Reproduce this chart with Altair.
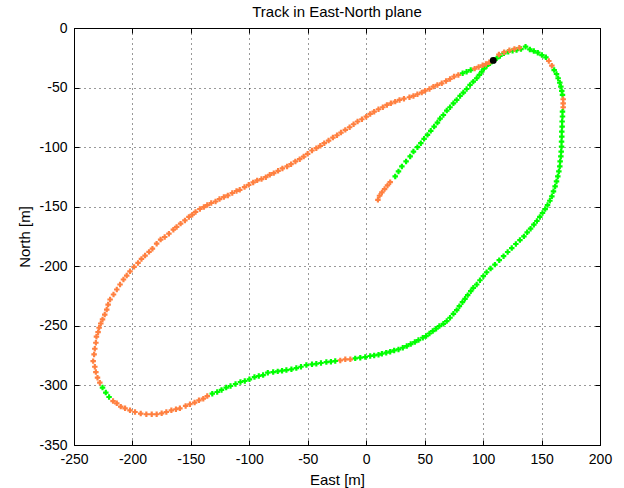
import altair as alt
import pandas as pd

# ---- axis ticks ----
X_TICKS = [-250, -200, -150, -100, -50, 0, 50, 100, 150, 200]
Y_TICKS = [-350, -300, -250, -200, -150, -100, -50, 0]

# ---- track points, in path order (East, North in metres) ----
S1_E = [10.0, 11.4, 13.4, 15.7, 18.2, 20.5]
S1_N = [-144.2, -140.8, -138.0, -135.2, -132.1, -129.4]

S2_E = [24.8, 27.6, 30.5, 34.1, 37.6, 40.4, 43.8, 46.7, 49.5, 52.4, 55.2, 58.1, 60.9, 63.2, 66.0,
        68.9, 71.7, 74.6, 77.4, 80.3, 83.1, 85.9, 88.8, 91.6, 94.5, 96.8, 98.8, 100.7, 103.0, 105.9,
        108.7, 111.6, 114.4, 117.8, 121.5, 125.2, 128.6, 132.4, 136.3, 140.0, 143.4, 146.8, 150.3, 153.7]
S2_N = [-124.6, -120.4, -116.2, -112.0, -107.8, -103.7, -100.0, -96.7, -93.0, -89.7, -86.3, -82.7, -79.4, -76.0, -73.0,
        -69.3, -66.5, -63.2, -60.4, -57.0, -54.2, -51.2, -47.8, -45.0, -42.2, -39.4, -36.7, -34.1, -31.9, -29.7,
        -27.4, -25.5, -23.5, -21.3, -19.9, -19.1, -18.5, -17.7, -15.7, -18.0, -19.4, -20.7, -22.7, -24.6]

S3_E = [156.2, 158.8]
S3_N = [-27.7, -31.6]

S4_E = [160.8, 162.8, 164.2, 165.6, 166.5, 167.3, 167.9]
S4_N = [-35.3, -38.6, -42.2, -45.9, -49.2, -52.8, -56.2]

S5_E = [168.5, 168.5, 168.5]
S5_N = [-59.8, -63.2, -66.5]

S6_E = [167.9, 167.9, 167.6, 167.6, 167.3, 167.3, 167.1, 167.1, 166.8, 166.5, 165.9, 165.6, 164.8, 163.9, 162.8,
        161.6, 160.2, 158.8, 157.1, 155.1, 153.1, 150.8, 148.5, 146.0, 143.4, 140.6, 137.7, 134.9, 131.5, 128.0,
        124.5, 121.0, 117.5, 113.8, 110.1, 106.4, 103.0, 100.2, 97.3, 94.5, 91.6, 89.4, 86.8, 84.5, 82.3,
        79.7, 77.4, 74.6, 71.7, 68.9, 66.0, 62.6, 59.8, 56.9, 54.1, 51.2, 48.4, 44.7, 41.6, 38.1,
        34.7, 31.3, 27.6, 23.9, 20.5, 17.1, 13.4, 10.5, 6.8, 3.4, -0.8, -5.1, -9.4]
S6_N = [-70.2, -74.3, -78.5, -82.7, -86.9, -91.1, -95.3, -99.5, -103.7, -107.8, -112.0, -116.2, -120.4, -124.6, -128.8,
        -133.0, -137.1, -141.3, -145.0, -148.6, -152.0, -155.3, -158.6, -162.0, -165.1, -168.4, -171.5, -174.9, -178.0, -181.3,
        -184.7, -188.0, -191.5, -194.9, -198.6, -201.9, -205.0, -208.3, -211.7, -215.3, -218.1, -220.9, -224.2, -227.3, -230.1,
        -233.5, -236.8, -239.9, -243.2, -246.0, -248.3, -250.2, -252.4, -254.4, -256.4, -258.6, -260.0, -261.9, -263.6, -265.3,
        -267.0, -268.4, -269.8, -270.6, -271.7, -272.5, -273.4, -274.2, -274.8, -275.3, -276.2, -276.7, -277.3]

S7_E = [-13.6, -17.9, -22.2]
S7_N = [-278.1, -278.1, -279.0]

S8_E = [-26.5, -30.2, -34.1, -38.7, -42.7, -46.4, -51.2, -55.8, -59.8, -64.0, -68.3, -72.0, -75.7, -79.6, -84.2,
        -88.2, -91.9, -95.6, -99.9, -103.9, -107.6, -111.8, -116.1, -119.8, -123.8, -127.5, -131.7]
S8_N = [-279.5, -280.1, -280.4, -281.2, -281.8, -282.3, -282.9, -284.3, -285.4, -286.5, -287.1, -287.6, -288.2, -288.8, -289.3,
        -291.3, -292.1, -293.0, -294.9, -296.3, -297.1, -298.8, -300.5, -301.8, -303.8, -305.5, -306.9]

S9_E = [-136.0, -139.4, -143.1, -146.8, -150.8, -154.5, -159.4, -162.8, -166.7, -171.0, -175.0, -179.3, -183.5, -188.1,
        -192.9, -197.8, -202.1, -206.3, -210.0, -213.4, -216.6]
S9_N = [-308.9, -311.1, -312.5, -314.4, -315.8, -317.2, -319.2, -320.0, -320.9, -322.3, -323.4, -324.2, -324.2, -324.2,
        -323.6, -322.3, -320.9, -319.2, -317.8, -315.0, -313.1]

S10_E = [-220.0, -222.8, -225.6]
S10_N = [-309.7, -306.0, -301.8]

S11_E = [-227.9, -229.9, -231.3, -232.2, -233.6, -232.8, -232.2, -231.3, -230.8, -229.4, -228.5, -227.1, -225.6, -223.7, -222.0,
         -220.8, -219.1, -216.2, -213.4, -210.6, -207.7, -204.9, -202.1, -198.6, -195.2, -192.3, -189.2, -185.8, -182.9, -179.3,
         -175.9, -172.4, -168.8, -165.0, -162.2, -158.8, -155.1, -151.7, -148.8, -146.0, -142.3, -138.9, -136.0, -132.6, -128.9,
         -125.5, -121.8, -118.4, -114.6, -111.0, -108.2, -104.1, -100.5, -96.7, -93.3, -89.6, -85.9, -82.5, -79.1, -75.4,
         -71.7, -67.7, -64.3, -60.6, -56.9, -53.5, -50.1, -46.4, -42.7, -39.3, -35.9, -32.2, -28.5, -25.0, -21.6,
         -17.9, -14.2, -10.8, -7.4, -3.7, 0.0, 3.4, 6.8, 10.5, 14.2, 17.7, 21.1, 24.8, 28.5, 32.3,
         37.0, 40.4, 43.8, 47.5, 50.4, 54.1, 57.5, 60.9, 64.6, 68.3, 71.7, 75.1, 78.8]
S11_N = [-297.7, -293.5, -288.8, -284.3, -279.6, -274.0, -269.2, -264.2, -259.1, -255.3, -251.6, -248.0, -244.6, -240.5, -236.3,
         -232.1, -227.9, -223.7, -219.5, -215.3, -211.1, -207.8, -204.2, -200.5, -197.2, -193.8, -191.0, -187.9, -185.2, -181.0,
         -177.6, -175.4, -172.6, -169.3, -167.0, -164.2, -161.5, -158.6, -156.7, -154.4, -151.9, -150.3, -148.6, -146.9, -145.6,
         -143.6, -141.9, -140.5, -138.5, -136.8, -135.8, -133.5, -131.6, -129.6, -127.9, -126.8, -125.2, -123.2, -121.8, -119.9,
         -117.9, -116.2, -114.3, -112.0, -110.1, -107.9, -105.6, -102.8, -100.9, -98.9, -96.7, -94.5, -92.0, -90.0, -87.8,
         -85.5, -83.3, -80.8, -78.5, -76.6, -74.4, -72.1, -70.2, -68.2, -66.5, -64.6, -63.2, -61.8, -60.4, -59.3,
         -58.1, -57.0, -55.6, -54.2, -52.6, -51.2, -49.2, -47.8, -46.4, -44.5, -42.8, -40.8, -39.4]

S12_E = [82.5, 85.9, 89.4]
S12_N = [-38.0, -36.7, -35.3]

S13_E = [92.8, 96.2, 99.6, 102.4, 105.3, 113.5, 118.0, 122.5, 126.8, 131.0]
S13_N = [-34.1, -32.7, -31.3, -30.2, -28.8, -22.3, -20.3, -18.7, -17.6, -16.6]

SEGMENTS = [
    ("orange", S1_E, S1_N), ("green", S2_E, S2_N), ("orange", S3_E, S3_N), ("green", S4_E, S4_N),
    ("orange", S5_E, S5_N), ("green", S6_E, S6_N), ("orange", S7_E, S7_N), ("green", S8_E, S8_N),
    ("orange", S9_E, S9_N), ("green", S10_E, S10_N), ("orange", S11_E, S11_N), ("green", S12_E, S12_N),
    ("orange", S13_E, S13_N),
]

DOT_E = [108.7]
DOT_N = [-27.2]

rows = []
for status, es, ns in SEGMENTS:
    assert len(es) == len(ns)
    for e, n in zip(es, ns):
        rows.append({"east": e, "north": n, "fix": status})
df = pd.DataFrame(rows)
dot_df = pd.DataFrame({"east": DOT_E, "north": DOT_N})

W, H = 526, 417
FONT = "Liberation Sans"

xs = alt.Scale(domain=[-250, 200], nice=False, zero=False)
ys = alt.Scale(domain=[-350, 0], nice=False, zero=False)

common_lab = dict(labelFont=FONT, labelFontSize=14, labelColor="black", labelFlush=False,
                  labelOverlap=False, labelExpr="'' + datum.value")
grid_style = dict(grid=True, gridColor="black", gridDash=[1, 4], gridOpacity=0.8, gridWidth=1)

x_main = alt.Axis(values=X_TICKS, title="East [m]", ticks=False, domain=False, labelPadding=7,
                  titleFont=FONT, titleFontSize=15, titleFontWeight="normal", titleColor="black",
                  titleBaseline="alphabetic", titleY=39, **grid_style, **common_lab)
y_main = alt.Axis(values=Y_TICKS, title="North [m]", ticks=False, domain=False, labelPadding=7,
                  titleFont=FONT, titleFontSize=15, titleFontWeight="normal", titleColor="black",
                  titleBaseline="alphabetic", titleAngle=270, titleAlign="center",
                  titleX=-45, titleY=H / 2, **grid_style, **common_lab)

tick_style = dict(labels=False, domain=False, grid=False, ticks=True, tickSize=5,
                  tickColor="black", tickWidth=1, title="")

points = alt.Chart(df).mark_point(shape="cross", filled=True, size=30, opacity=1).encode(
    x=alt.X("east:Q", scale=xs, axis=x_main),
    y=alt.Y("north:Q", scale=ys, axis=y_main),
    color=alt.Color("fix:N", scale=alt.Scale(domain=["green", "orange"], range=["#00ff00", "#ff8040"]),
                    legend=None),
)

dot = alt.Chart(dot_df).mark_circle(size=48, color="black", opacity=1).encode(
    x=alt.X("east:Q", scale=xs, axis=alt.Axis(orient="top", offset=-H, values=X_TICKS, **tick_style)),
    y=alt.Y("north:Q", scale=ys, axis=alt.Axis(orient="right", offset=-W, values=Y_TICKS, **tick_style)),
)

ticks2 = alt.Chart(dot_df).mark_point(opacity=0).encode(
    x=alt.X("east:Q", scale=xs, axis=alt.Axis(orient="bottom", offset=-H, values=X_TICKS, **tick_style)),
    y=alt.Y("north:Q", scale=ys, axis=alt.Axis(orient="left", offset=-W, values=Y_TICKS, **tick_style)),
)

chart = alt.layer(points, dot, ticks2).resolve_axis(x="independent", y="independent").properties(
    width=W, height=H,
    title=alt.TitleParams(text="Track in East-North plane", font=FONT, fontSize=15, fontWeight="normal",
                          color="black", anchor="middle", baseline="alphabetic", offset=4, dy=15),
    autosize=alt.AutoSizeParams(type="none"),
    padding={"left": 74, "top": 28, "right": 24, "bottom": 43},
    background="white",
).configure_view(stroke="black", strokeWidth=1)

chart.save("out.html", embed_options={"renderer": "svg", "actions": False})
